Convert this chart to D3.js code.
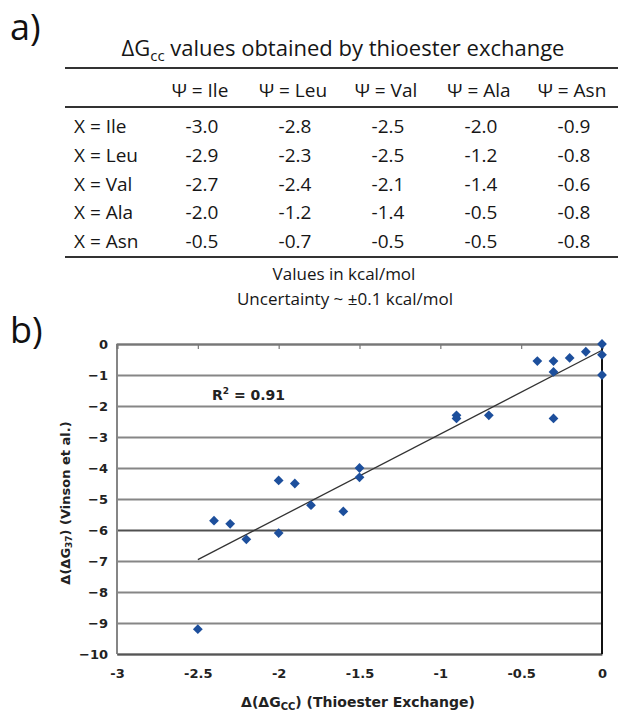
<!DOCTYPE html>
<html>
<head>
<meta charset="utf-8">
<script src="https://cdn.jsdelivr.net/npm/d3@7"></script>
<style>
  body { margin: 0; background: #fff; }
  svg { display: block; }
  .tbl { font-family: "Open Sans", sans-serif; fill: #161616; }
  .ax { font-family: "DejaVu Sans", sans-serif; font-weight: bold; fill: #222; }
</style>
</head>
<body>
<div id="fig"></div>
<script>
const WIDTH = 620;
const HEIGHT = 715;

// panel a: table of dGcc values (kcal/mol)
const colLabels = ['Ψ = Ile', 'Ψ = Leu', 'Ψ = Val', 'Ψ = Ala', 'Ψ = Asn'];
const rowLabels = ['X = Ile', 'X = Leu', 'X = Val', 'X = Ala', 'X = Asn'];
const tableValues = [
    ['-3.0', '-2.8', '-2.5', '-2.0', '-0.9'],
    ['-2.9', '-2.3', '-2.5', '-1.2', '-0.8'],
    ['-2.7', '-2.4', '-2.1', '-1.4', '-0.6'],
    ['-2.0', '-1.2', '-1.4', '-0.5', '-0.8'],
    ['-0.5', '-0.7', '-0.5', '-0.5', '-0.8']
];

// panel b: scatter, thioester exchange vs Vinson et al.
const ddGcc = [-0.4, -0.3, -0.2, -0.1, 0, 0, 0, -0.3, -0.3, -0.9, -0.9, -0.7,
    -2.4, -2.3, -2.2, -2.0, -2.0, -1.9, -1.8, -1.6, -1.5, -1.5, -2.5];
const ddG37 = [-0.55, -0.55, -0.45, -0.25, 0, -0.35, -1.0, -0.9, -2.4, -2.3, -2.4, -2.3,
    -5.7, -5.8, -6.3, -4.4, -6.1, -4.5, -5.2, -5.4, -4.0, -4.3, -9.2];
const xTicks = [-3, -2.5, -2, -1.5, -1, -0.5, 0];
const yTicks = [0, -1, -2, -3, -4, -5, -6, -7, -8, -9, -10];
const rSquaredLabel = '0.91';

const svg = d3.select('#fig').append('svg')
    .attr('width', WIDTH)
    .attr('height', HEIGHT);

// ---------- a) ----------
svg.append('text')
    .attr('x', 10).attr('y', 40)
    .attr('font-family', 'Open Sans, sans-serif')
    .attr('font-size', 36)
    .attr('fill', '#111')
    .text('a)');

const tLeft = 65, tRight = 618;
const col = d3.scalePoint().domain(colLabels).range([200, 572]);
const row = d3.scalePoint().domain(rowLabels).range([133, 248]);

const title = svg.append('text').attr('class', 'tbl')
    .attr('x', 343).attr('y', 56)
    .attr('text-anchor', 'middle')
    .attr('font-size', 22);
title.append('tspan').text('ΔG');
title.append('tspan').attr('font-size', 15).attr('dy', 5).text('cc');
title.append('tspan').attr('dy', -5).text(' values obtained by thioester exchange');

[68, 107, 257].forEach(yy => {
    svg.append('line')
        .attr('x1', tLeft).attr('x2', tRight)
        .attr('y1', yy).attr('y2', yy)
        .attr('stroke', '#333').attr('stroke-width', 2);
});

svg.append('g').selectAll('text')
    .data(colLabels)
    .enter().append('text').attr('class', 'tbl')
    .attr('x', d => col(d)).attr('y', 97)
    .attr('text-anchor', 'middle')
    .attr('font-size', 19)
    .text(d => d);

svg.append('g').selectAll('text')
    .data(rowLabels)
    .enter().append('text').attr('class', 'tbl')
    .attr('x', 74).attr('y', d => row(d))
    .attr('font-size', 19)
    .text(d => d);

const cells = [];
tableValues.forEach((r, i) => r.forEach((v, j) => cells.push({ r: rowLabels[i], c: colLabels[j], v: v })));
svg.append('g').selectAll('text')
    .data(cells)
    .enter().append('text').attr('class', 'tbl')
    .attr('x', d => col(d.c) + 2).attr('y', d => row(d.r))
    .attr('text-anchor', 'middle')
    .attr('font-size', 19)
    .text(d => d.v);

svg.append('text').attr('class', 'tbl')
    .attr('x', 344).attr('y', 280)
    .attr('text-anchor', 'middle').attr('font-size', 17)
    .text('Values in kcal/mol');
svg.append('text').attr('class', 'tbl')
    .attr('x', 345).attr('y', 305)
    .attr('text-anchor', 'middle').attr('font-size', 17)
    .text('Uncertainty ~ ±0.1 kcal/mol');

// ---------- b) ----------
svg.append('text')
    .attr('x', 10).attr('y', 343)
    .attr('font-family', 'Open Sans, sans-serif')
    .attr('font-size', 36)
    .attr('fill', '#111')
    .text('b)');

const x = d3.scaleLinear().domain([-3, 0]).range([117, 602]);
const y = d3.scaleLinear().domain([-10, 0]).range([654, 344]);

// gridlines + y labels (labels low, on the left)
const gy = svg.append('g')
    .attr('transform', `translate(${x(-3)},0)`)
    .call(d3.axisLeft(y).tickValues(yTicks).tickSize(-(x(0) - x(-3))).tickPadding(9).tickFormat(d3.format('d')));
gy.select('.domain').remove();
gy.selectAll('line')
    .attr('stroke', d => d === -6 ? '#505050' : '#868686')
    .attr('stroke-width', 2);
gy.selectAll('text').attr('class', 'ax').attr('font-size', 13);

// left border
svg.append('line')
    .attr('x1', x(-3)).attr('x2', x(-3))
    .attr('y1', y(0)).attr('y2', y(-10))
    .attr('stroke', '#868686').attr('stroke-width', 2);

// x axis crosses at y = 0 (top), ticks pointing down
const gxTop = svg.append('g')
    .attr('transform', `translate(0,${y(0)})`)
    .call(d3.axisBottom(x).tickValues(xTicks).tickSize(5).tickFormat(''));
gxTop.select('.domain').attr('stroke', '#777').attr('stroke-width', 2);
gxTop.selectAll('line').attr('stroke', '#777').attr('stroke-width', 1.2);

// x labels at bottom
const gx = svg.append('g')
    .attr('transform', `translate(0,${y(-10)})`)
    .call(d3.axisBottom(x).tickValues(xTicks).tickSize(0).tickPadding(15).tickFormat(d => d));
gx.select('.domain').attr('stroke', '#555').attr('stroke-width', 2);
gx.selectAll('text').attr('class', 'ax').attr('font-size', 13);

// y axis crosses at x = 0 (right)
svg.append('line')
    .attr('x1', x(0)).attr('x2', x(0))
    .attr('y1', y(0)).attr('y2', y(-10))
    .attr('stroke', '#111').attr('stroke-width', 2);

// linear trendline from least squares
const pts = ddGcc.map((v, i) => ({ x: v, y: ddG37[i] }));
const mx = d3.mean(pts, d => d.x), my = d3.mean(pts, d => d.y);
const slope = d3.sum(pts, d => (d.x - mx) * (d.y - my)) / d3.sum(pts, d => (d.x - mx) ** 2);
const icpt = my - slope * mx;
const xr = d3.extent(ddGcc);
svg.append('line')
    .attr('x1', x(xr[0])).attr('y1', y(icpt + slope * xr[0]))
    .attr('x2', x(xr[1])).attr('y2', y(icpt + slope * xr[1]))
    .attr('stroke', '#333').attr('stroke-width', 1.3);

svg.append('g').selectAll('path')
    .data(pts)
    .enter().append('path')
    .attr('d', d3.symbol(d3.symbolSquare, 48))
    .attr('transform', d => `translate(${x(d.x)},${y(d.y)}) rotate(45)`)
    .attr('fill', '#1d4f9c');

const r2 = svg.append('text').attr('class', 'ax')
    .attr('x', 212).attr('y', 400).attr('font-size', 14);
r2.append('tspan').text('R');
r2.append('tspan').attr('font-size', 9).attr('dy', -6).text('2');
r2.append('tspan').attr('dy', 6).text(' = ' + rSquaredLabel);

const xt = svg.append('text').attr('class', 'ax')
    .attr('x', 358).attr('y', 707)
    .attr('text-anchor', 'middle').attr('font-size', 14);
xt.append('tspan').text('Δ(ΔG');
xt.append('tspan').attr('font-size', 10).attr('dy', 3).text('CC');
xt.append('tspan').attr('dy', -3).text(') (Thioester Exchange)');

const yt = svg.append('text').attr('class', 'ax')
    .attr('transform', `translate(70,${(y(0) + y(-10)) / 2 + 4}) rotate(-90)`)
    .attr('text-anchor', 'middle').attr('font-size', 13);
yt.append('tspan').text('Δ(ΔG');
yt.append('tspan').attr('font-size', 9).attr('dy', 2).text('37');
yt.append('tspan').attr('dy', -2).text(') (Vinson et al.)');
</script>
</body>
</html>
